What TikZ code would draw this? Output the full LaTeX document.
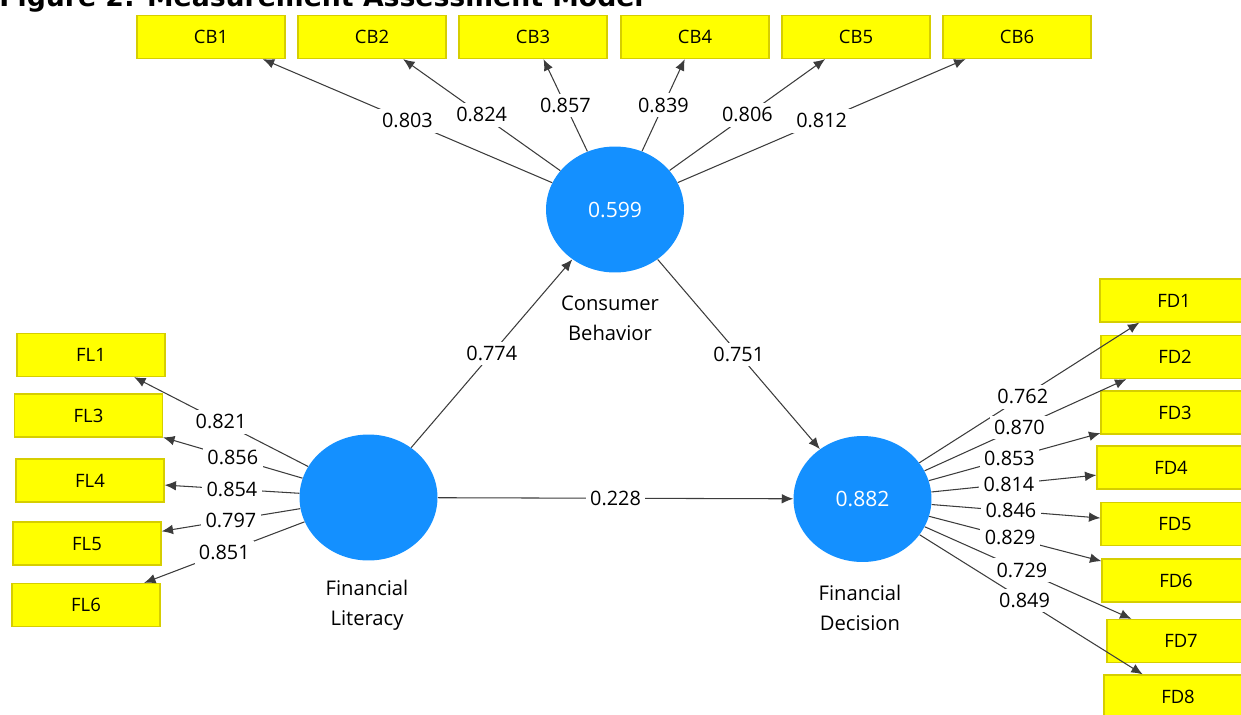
\documentclass[tikz,border=0pt]{standalone}
\usepackage{fontspec}
\setmainfont{Open Sans}
\newfontfamily\titlefont{DejaVu Sans}
\usetikzlibrary{shapes.geometric,arrows.meta}
\definecolor{lvblue}{RGB}{20,144,255}
\definecolor{mvyellow}{RGB}{255,255,0}
\definecolor{mvborder}{RGB}{214,206,0}
\definecolor{linkgray}{RGB}{60,60,60}

\begin{document}
\begin{tikzpicture}[x=0.02cm,y=-0.02cm,
  latent/.style={ellipse,fill=lvblue,inner sep=0pt,minimum width=2.76cm,minimum height=2.52cm,text=white,font=\fontsize{12}{14}\selectfont},
  indicator/.style={rectangle,draw=mvborder,fill=mvyellow,line width=0.7pt,minimum width=2.96cm,minimum height=0.86cm,inner sep=0pt,font=\fontsize{10.5}{12}\selectfont},
  coef/.style={fill=white,inner sep=2.5pt,font=\fontsize{11.3}{13}\selectfont},
  lvname/.style={align=center,font=\fontsize{11.5}{17}\selectfont},
  link/.style={draw=linkgray,line width=0.6pt,-{Latex[length=6.5pt,width=5.5pt]}}]
      \clip (0,0) rectangle (1241,714);
      \node [anchor=base west,inner sep=0pt,font=\titlefont\bfseries\fontsize{15.2}{17}\selectfont] (title) at (-1,6) {Figure 2: Measurement Assessment Model};
      % latent variables
      \node [latent] (CB) at (615,209.5) {0.599};
      \node [latent] (FL) at (368.5,497.5) {};
      \node [latent] (FD) at (862.5,499) {0.882};
      \node [lvname] (CBname) at (610,318) {Consumer\\Behavior};
      \node [lvname] (FLname) at (367,605) {Financial\\Literacy};
      \node [lvname] (FDname) at (860,608) {Financial\\Decision};
      % indicators
      \foreach \n/\x in {1/211,2/372,3/533,4/695,5/856,6/1017}
       {\node [indicator] (CB\n) at (\x,37) {CB\n};}
      \foreach \n/\x/\y in {1/91/355,3/88.5/415.5,4/90/480.5,5/87/543.5,6/86/605}
       {\node [indicator] (FL\n) at (\x,\y) {FL\n};}
      \foreach \n/\x/\y in {1/1174/300.5,2/1175/357,3/1175/412.5,4/1171/467.5,5/1175/524,6/1176/580.5,7/1181/641,8/1178/696.5}
       {\node [indicator] (FD\n) at (\x,\y) {FD\n};}
      % loadings
      \foreach \n/\v in {1/0.803,2/0.824,3/0.857,4/0.839,5/0.806,6/0.812}
       {\draw [link] (CB) -- node [coef] {\v} (CB\n);}
      \foreach \n/\v in {1/0.821,3/0.856,4/0.854,5/0.797,6/0.851}
       {\draw [link] (FL) -- node [coef] {\v} (FL\n);}
      \foreach \n/\v in {1/0.762,2/0.870,3/0.853,4/0.814,5/0.846,6/0.829,7/0.729,8/0.849}
       {\draw [link] (FD) -- node [coef,pos=0.47] {\v} (FD\n);}
      % path coefficients
      \draw [link] (FL) -- node [coef] {0.774} (CB);
      \draw [link] (CB) -- node [coef] {0.751} (FD);
      \draw [link] (FL) -- node [coef] {0.228} (FD);
\end{tikzpicture}
\end{document}
